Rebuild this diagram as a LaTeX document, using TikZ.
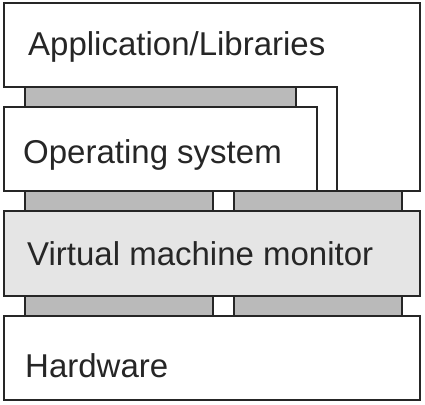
\documentclass[tikz,border=0pt]{standalone}
\usepackage{fontspec}
\setmainfont{Liberation Sans}
\usetikzlibrary{positioning}

\tikzset{
  layer/.style={draw=black!85, line width=1.5pt, fill=white},
  vmmlayer/.style={layer, fill=black!10},
  iface/.style={draw=black!85, line width=1.5pt, fill=black!27},
  txt/.style={anchor=base west, inner sep=0pt, font=\fontsize{33}{36}\selectfont, text=black!85}
}

\begin{document}
\begin{tikzpicture}[x=1pt, y=-1pt]
    \useasboundingbox (0,0) rectangle (425,404);
    \foreach \xa/\xb in {25/213, 234/402} {
      \draw[iface] (\xa,191) rectangle (\xb,211);
      \draw[iface] (\xa,296) rectangle (\xb,316);
    }
    \draw[iface] (25,87) rectangle (296,107);
    \draw[layer] (4,3) -- (420,3) -- (420,191) -- (337,191) -- (337,87) -- (4,87) -- cycle;
    \draw[layer] (4,107) rectangle (317,191);
    \draw[vmmlayer] (4,211) rectangle (420,296);
    \draw[layer] (4,316) rectangle (420,400);
    \node[txt] (app) at (28,56) {Application/Libraries};
    \node[txt] (os) at (23,163) {Operating system};
    \node[txt] (vmm) at (27,265) {Virtual machine monitor};
    \node[txt] (hw) at (25,377) {Hardware};
  \end{tikzpicture}
\end{document}
